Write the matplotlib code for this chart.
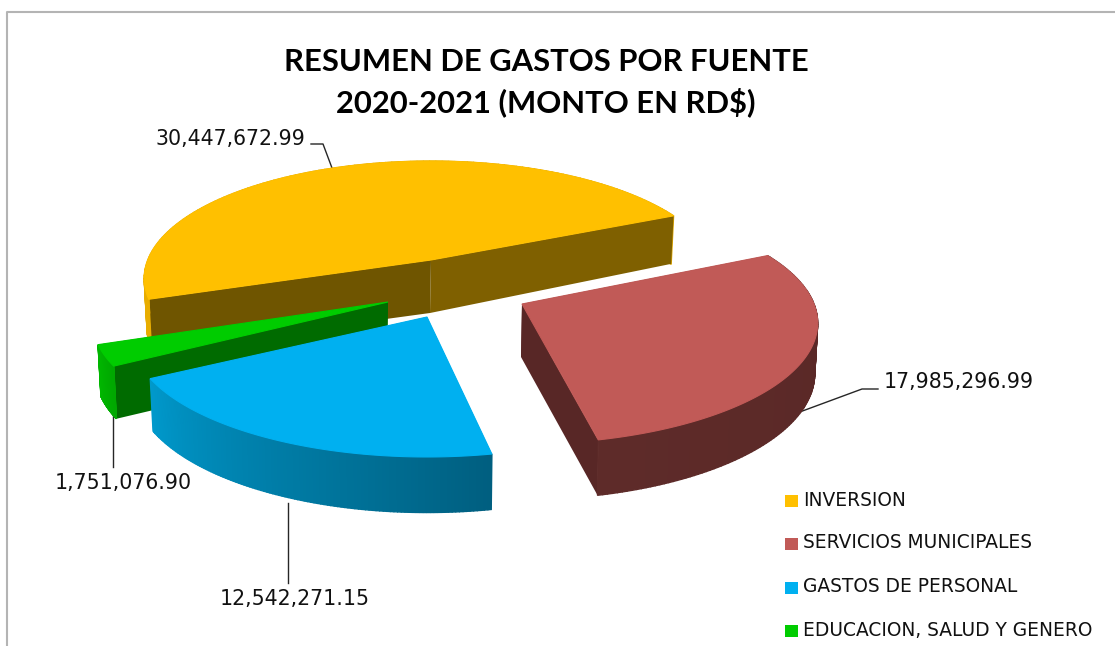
import numpy as np
import matplotlib
matplotlib.use("Agg")
import matplotlib.pyplot as plt

categories = ["INVERSION", "SERVICIOS MUNICIPALES", "GASTOS DE PERSONAL", "EDUCACION, SALUD Y GENERO"]
values = [30447672.99, 17985296.99, 12542271.15, 1751076.90]

# look of each slice
top_colors = ["#ffc000", "#c15a57", "#00b0f0", "#00cc00"]
wall_from = ["#e0a800", "#5e2b29", "#0099cc", "#00b800"]
wall_to = ["#e8ad00", "#582726", "#005f80", "#00a800"]
cut_colors = [("#7f6000", "#6f5500"), ("#582726", "#582726"), ("#0087b5", "#0087b5"), ("#006b00", "#006b00")]
# pulled-out position of each slice tip, in pixels from the pie centre
offsets = [(3, -35), (94, 9), (-1, 22), (-40, 7)]
radius_scale = [0.97, 1.0, 1.0, 1.0]
turn = [-1, 0.75, -1.2, 0]
draw_order = [0, 1, 3, 2]

START_ANGLE = 200
CENTER = (428, 295)
RX, RY, PERSP, DEPTH = 292, 118, 0.157, 50


def project(theta, tip, scale):
    u, v = np.cos(theta) * scale, np.sin(theta) * scale
    w = 1 + PERSP * np.sin(theta)
    return tip[0] + RX * u / w, tip[1] - RY * v / w


def drop(x, y, tip, theta):
    return tip[0] + (x - tip[0]) * 0.99, y + DEPTH / (1 + 0.1 * np.sin(theta))


def draw_wall(ax, x, y, bx, by, th, c0, c1, front, z):
    n = len(th) - 1
    for k in range(n):
        if (np.sin(th[k]) < 0) != front:
            continue
        col = c0 + (c1 - c0) * k / (n - 1)
        ax.fill([x[k], x[k + 1], bx[k + 1], bx[k]], [y[k], y[k + 1], by[k + 1], by[k]],
                facecolor=col, edgecolor=col, lw=1, zorder=z)


def draw_slice(ax, i, a1, a2, z):
    tip = (CENTER[0] + offsets[i][0], CENTER[1] + offsets[i][1])
    th = np.radians(np.linspace(a1, a2, 120) + turn[i])
    x, y = project(th, tip, radius_scale[i])
    bx, by = drop(x, y, tip, th)
    tipb = (tip[0] - 1, tip[1] + DEPTH + 3)
    c0 = np.array(matplotlib.colors.to_rgb(wall_from[i]))
    c1 = np.array(matplotlib.colors.to_rgb(wall_to[i]))

    # back of the wall, then the cut faces, then the front of the wall, then the top
    draw_wall(ax, x, y, bx, by + 0.5, th, c0, c1, False, z)
    ax.fill([tip[0], x[0], bx[0], tipb[0]], [tip[1], y[0], by[0], tipb[1]], color=cut_colors[i][0], lw=0, zorder=z + 0.1)
    ax.fill([tip[0], x[-1], bx[-1], tipb[0]], [tip[1], y[-1], by[-1], tipb[1]], color=cut_colors[i][1], lw=0, zorder=z + 0.1)
    draw_wall(ax, x, y, bx, by, th, c0, c1, True, z + 0.2)
    # a thin edge in the top colour hides the wall peeking out behind the rim
    ax.fill(np.r_[tip[0], x], np.r_[tip[1], y], facecolor=top_colors[i], edgecolor=top_colors[i], lw=0.8, zorder=z + 0.3)


fig = plt.figure(figsize=(11.15, 6.46), dpi=100)
ax = fig.add_axes([0, 0, 1, 1])
ax.set_xlim(0, 1115)
ax.set_ylim(646, 0)
ax.axis("off")

# frame, cut by the picture edge on the right and at the bottom
ax.plot([6.5, 6.5, 1115], [646, 12, 12], color="#b4b4b4", lw=1.5)

sweeps = 360 * np.array(values) / sum(values)
ends = START_ANGLE - np.cumsum(sweeps)
starts = np.r_[START_ANGLE, ends[:-1]]

for z, i in enumerate(draw_order):
    draw_slice(ax, i, ends[i], starts[i], z + 2)

# leader lines and value labels
leaders = [
    ([311, 323, 332], [144, 144, 168]),
    ([797, 862, 878], [413, 389, 389]),
    ([288, 288], [503, 583]),
    ([113, 113], [410, 467]),
]
label_pos = [(305, 139, "right"), (884, 382, "left"), (295, 599, "center"), (123, 483, "center")]
for i, v in enumerate(values):
    ax.plot(leaders[i][0], leaders[i][1], color="#262626", lw=1, zorder=1.5)
    lx, ly, ha = label_pos[i]
    ax.text(lx, ly, f"{v:,.2f}", ha=ha, va="center", fontsize=14.8, color="#111111", family="DejaVu Sans")

ax.text(546, 62, "RESUMEN DE GASTOS POR FUENTE", ha="center", va="center", fontsize=22.3,
        fontweight="bold", family="Lato", color="black")
ax.text(546, 102, "2020-2021 (MONTO EN RD$)", ha="center", va="center", fontsize=22.3,
        fontweight="bold", family="Lato", color="black")

# legend
legend_y = [501, 544, 588, 631]
for i, name in enumerate(categories):
    ax.fill([785, 798, 798, 785], [legend_y[i] - 6, legend_y[i] - 6, legend_y[i] + 6, legend_y[i] + 6],
            color=top_colors[i], lw=0, zorder=10)
    ax.text(803, legend_y[i] - 1, name, ha="left", va="center", fontsize=13.4, color="#111111",
            family="DejaVu Sans")

fig.savefig("out.png", dpi=100)
